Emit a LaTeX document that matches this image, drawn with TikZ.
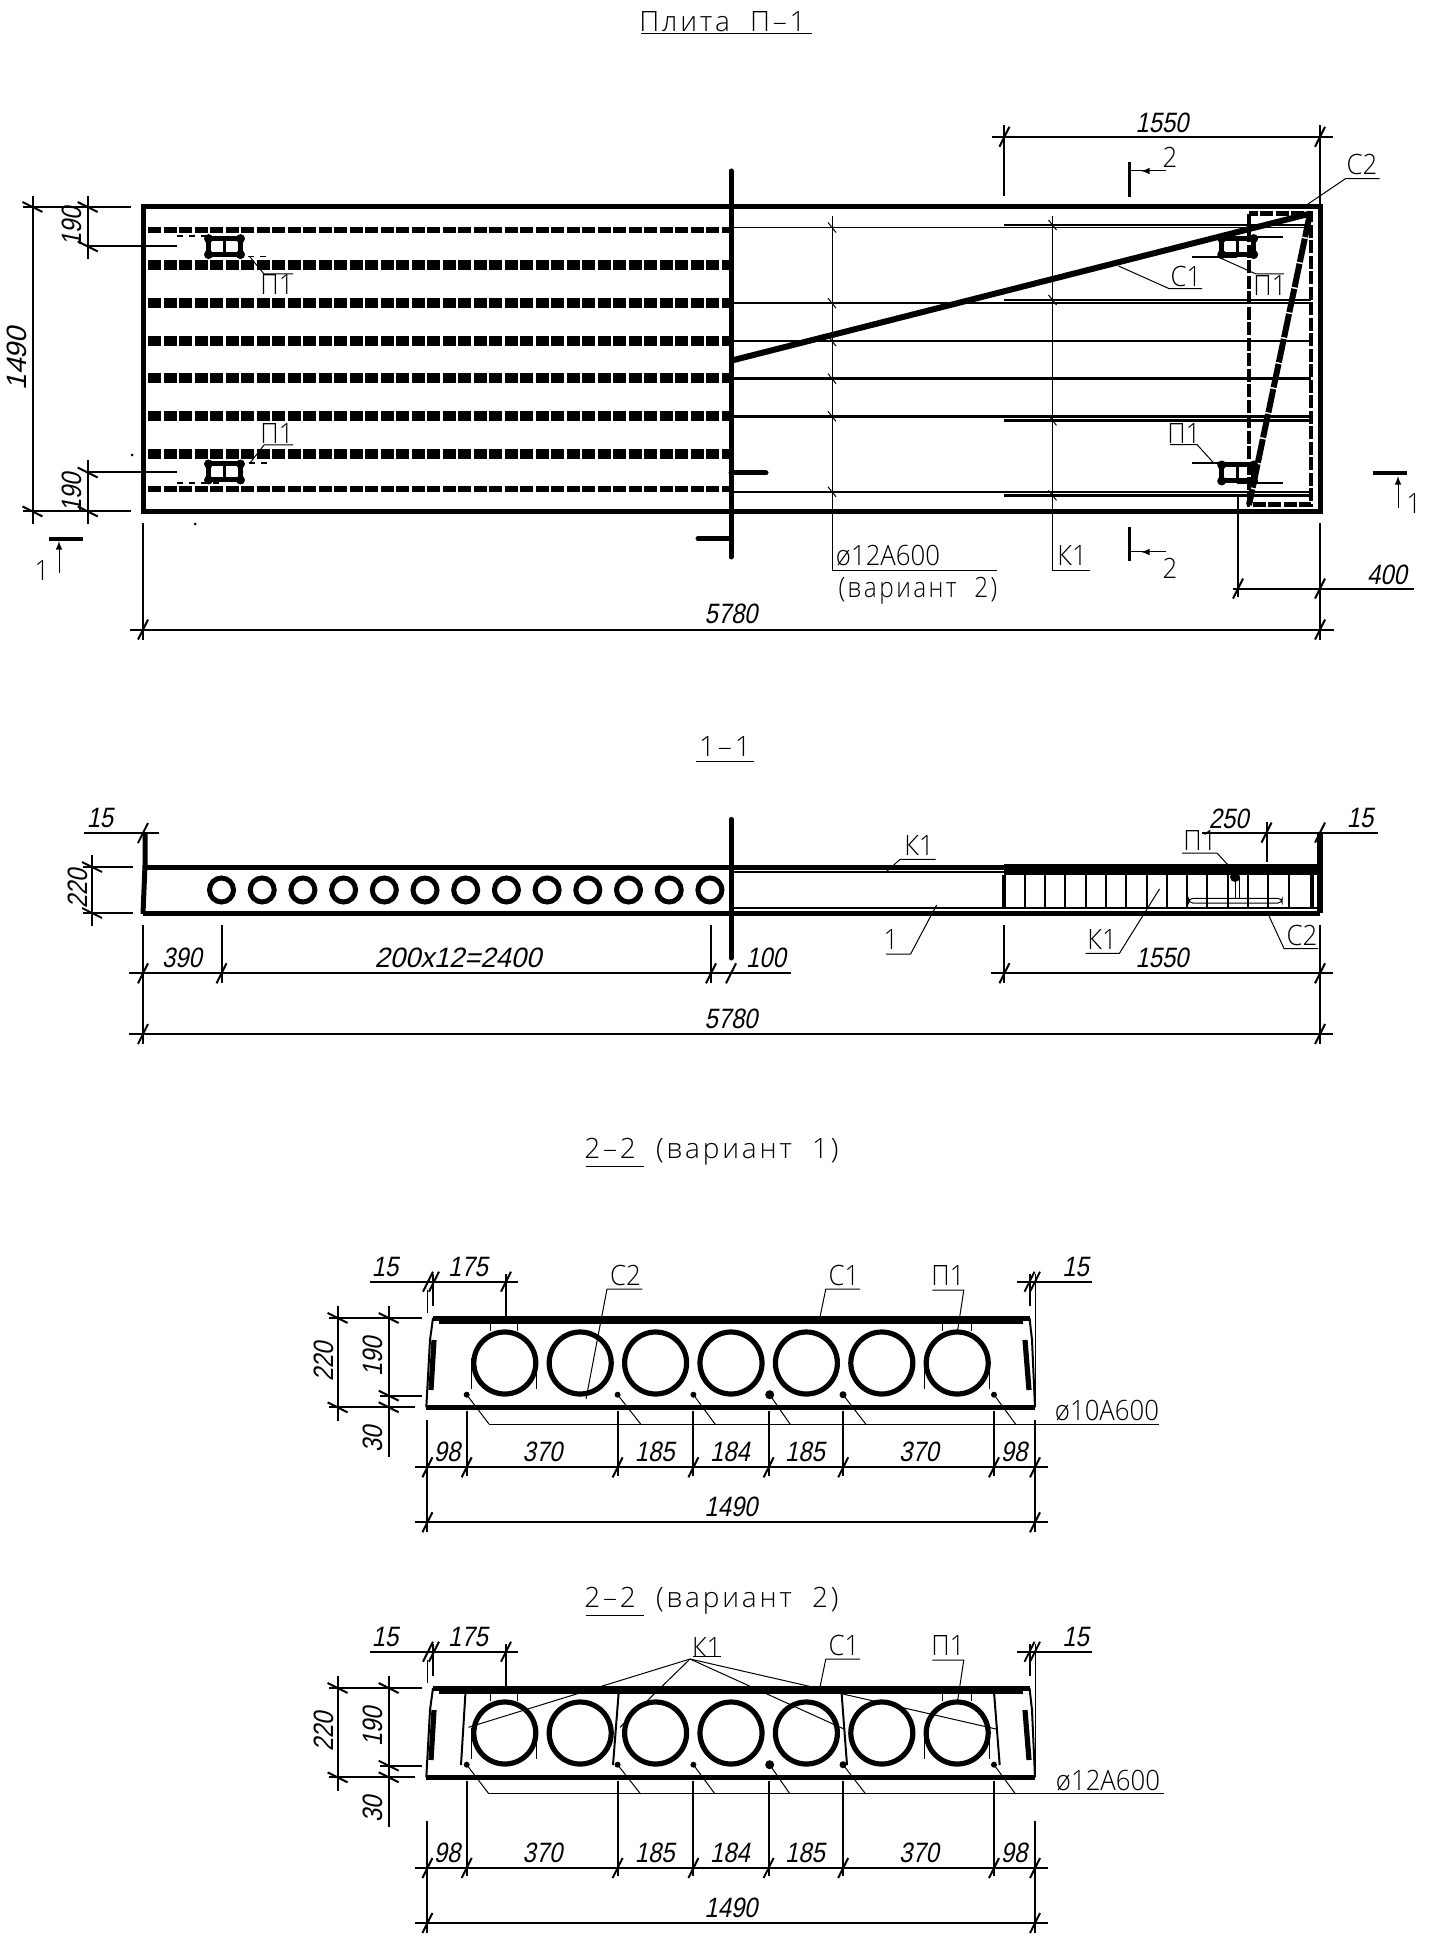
\documentclass[tikz,border=0pt]{standalone}
\usepackage{fontspec}
\newfontfamily\dimfont[FakeSlant=0.2,FakeStretch=0.85]{Liberation Sans}
\newfontfamily\lblfont[FakeStretch=0.92]{Open Sans Light}
\newfontfamily\ttlfont[LetterSpace=10]{Open Sans Light}
\tikzset{
	dimline/.style={line width=1pt},
	thinline/.style={line width=0.5pt},
	plateline/.style={line width=2.5pt},
	dimtext/.style={font=\dimfont\fontsize{14}{14}\selectfont,inner sep=0pt},
	lbltext/.style={font=\lblfont\fontsize{14}{14}\selectfont,inner sep=0pt},
	ttltext/.style={font=\ttlfont\fontsize{14}{14}\selectfont,inner sep=0pt},
	heavyrod/.style={line width=5pt,dash pattern=on 6.5pt off 1.25pt},
	lightrod/.style={line width=3pt,dash pattern=on 6.5pt off 1.25pt}
}
% y, x from, x to, ticks
\newcommand{\dimrow}[4]{
	\draw[dimline] (#2,#1) -- (#3,#1);
	\foreach \t in {#4}{
		\draw[dimline] ({\t+5},{#1-10}) -- ({\t-5},{#1+10});
	}
}
% x, y from, y to, ticks
\newcommand{\dimcol}[4]{
	\draw[dimline] (#1,#2) -- (#1,#3);
	\foreach \t in {#4}{
		\draw[dimline] ({#1-10},{\t-5}) -- ({#1+10},{\t+5});
	}
}
\begin{document}
\begin{tikzpicture}[x=0.5pt,y=-0.5pt]
\useasboundingbox (0,0) rectangle (1439,1946);
\fill[white] (0,0) rectangle (1439,1946);

%titles
\node[ttltext,anchor=west] (titleplan) at (639,22) {Плита\ \ П–1};
\draw[thinline] (641,34) -- (812,34);
\node[ttltext] (titleone) at (725,747) {1–1};
\draw[thinline] (696,761) -- (754,761);
\node[ttltext,anchor=west] (titletwoa) at (584,1152) {2–2\ \ (вариант\ \ 1)};
\draw[thinline] (586,1166) -- (644,1166);
\node[ttltext,anchor=west] (titletwob) at (584,1601) {2–2\ \ (вариант\ \ 2)};
\draw[thinline] (586,1615) -- (644,1615);

%plan: the plate and the break
\draw[plateline] (143,207) rectangle (1320,511.4);
\draw[plateline,line cap=round] (731,171) -- (731,557);
\draw[plateline,line cap=round] (731,473) -- (766,473);
\draw[plateline,line cap=round] (698,538.6) -- (731,538.6);

%plan: rods left of the break
\foreach \y in {265,303,340.7,378,416.4,453.6}{
	\draw[heavyrod] (148,\y) -- (731,\y);
}
\foreach \y in {229.6,489}{
	\draw[lightrod] (148,\y) -- (731,\y);
}
\fill (132,455) circle (1.5);
\fill (195,524) circle (1.5);

%plan: rods right of the break
\foreach \y in {227.5,491.8}{
	\draw[line width=0.8pt] (731,\y) -- (1311,\y);
}
\foreach \y in {303.2,341,378.6,416.4}{
	\draw[line width=1.2pt] (731,\y) -- (1311,\y);
}
\foreach \y in {225,300,420.4,495.4}{
	\draw[line width=1.2pt] (1004,\y) -- (1311,\y);
}

%plan: the meshes at the end
\draw[line width=2.2pt,dash pattern=on 6.5pt off 1.25pt] (1249,213.6) rectangle (1311,504.6);
\draw[line width=3pt] (731,360.7) -- (1310,213.6);
\draw[line width=3pt,dash pattern=on 12pt off 0.8pt] (1310,213.6) -- (1249,505);

%plan: small frames
\foreach \x/\y in {208.5/238.6,208.5/464,1221.7/238.6,1221.7/465}{
	\draw[line width=2.5pt] (\x,\y) rectangle ({\x+32},{\y+16});
	\draw[line width=1.5pt] ({\x+16},\y) -- ({\x+16},{\y+16});
	\foreach \cx in {0,32}{
		\foreach \cy in {0,16}{
			\fill ({\x+\cx},{\y+\cy}) circle (4.5);
		}
	}
}
\draw[dimline,dashed] (177,236.4) -- (208,236.4);
\draw[thinline,dashed] (224,257) -- (270,257);
\draw[thinline] (250,257) -- (264,274) -- (293,274);
\draw[dimline,dashed] (177,483) -- (224,483);
\draw[dimline,dashed] (237,463) -- (270,463);
\draw[thinline] (250,463) -- (264,445) -- (293,445);
\draw[dimline] (1232,236.8) -- (1283,236.8);
\draw[dimline] (1191.5,257) -- (1237,257);
\draw[thinline] (1218,257) -- (1256,274) -- (1284,274);
\draw[dimline] (1191.5,463) -- (1237,463);
\draw[dimline] (1237,483) -- (1283,483);
\draw[thinline] (1213.7,463) -- (1197,444.6) -- (1170,444.6);

%plan: leaders
\draw[thinline] (832,216) -- (832,570) -- (997,570);
\draw[thinline] (1052.5,216) -- (1052.5,570) -- (1090,570);
\foreach \y in {227.5,303.2,341,378.6,416.4,491.8}{
	\draw[thinline] (828,{\y-5}) -- (836,{\y+5});
}
\foreach \y in {225,300,420.4,495.4}{
	\draw[thinline] (1048.5,{\y-5}) -- (1056.5,{\y+5});
}
\draw[thinline] (1308,204) -- (1345.6,178.6) -- (1379.5,178.6);
\draw[thinline] (1118.5,266) -- (1169,288.6) -- (1202,288.6);

%plan: section marks
\draw[line width=2pt] (49.4,538.6) -- (83.4,538.6);
\draw[thinline,-latex] (59,573) -- (59,541);
\draw[line width=2pt] (1372.5,473) -- (1407,473);
\draw[thinline,-latex] (1398,508) -- (1398,476);
\foreach \y/\ya/\yb in {171/162.5/197,552/527.5/561.4}{
	\draw[line width=1.5pt] (1129,\ya) -- (1129,\yb);
	\draw[thinline] (1166,\y) -- (1129,\y);
	\draw[thinline,-latex] (1160,\y) -- (1141,\y);
}

%plan: dimensions
\dimcol{32.5}{196}{524}{207,511.4}
\dimcol{87.7}{196}{259}{207,246.4}
\dimcol{87.7}{460}{524}{472.5,511.4}
\foreach \y in {207,511.4}{
	\draw[dimline] (23,\y) -- (131,\y);
}
\draw[dimline] (87.7,246.4) -- (177.4,246.4);
\draw[dimline] (87.7,472.5) -- (177.4,472.5);
\dimrow{629.6}{130}{1334}{143,1320}
\dimrow{136.8}{992}{1333}{1004.4,1320}
\dimrow{588.6}{1232.5}{1414}{1238,1320}
\draw[dimline] (143,523) -- (143,640);
\draw[dimline] (1320,523) -- (1320,640);
\draw[dimline] (1004.4,125) -- (1004.4,196.4);
\draw[dimline] (1320,125) -- (1320,207);
\draw[dimline] (1238,494.6) -- (1238,597);

%plan: texts
\foreach \x/\y/\t [count=\i] in {731/614/5780,1162/123/1550,1387/575/400}{
	\node[dimtext] (plandim\i) at (\x,\y) {\t};
}
\node[dimtext,rotate=90,xscale=1.2] (planheight) at (17,359) {1490};
\node[dimtext,rotate=90] (planedgea) at (72,227) {190};
\node[dimtext,rotate=90] (planedgeb) at (72,493) {190};
\foreach \x/\y/\t [count=\i] in {277/285/П1,277/434/П1,1270/285.7/П1,1184/434/П1,
	1362/165/С2,1186/277/С1,888/556/ø12А600,1072/556/К1,
	42/570.7/1,1414/503.6/1,1170/157/2,1170/568/2}{
	\node[lbltext] (planlbl\i) at (\x,\y) {\t};
}
\node[ttltext,xscale=0.87] (planvar) at (918,591) {(вариант\ \ 2)};

%section 1-1
\begin{scope}[shift={(0,-4)}]
	%outline
	\draw[plateline] (143,871) -- (1320,871);
	\draw[plateline] (143,917) -- (1320,917);
	\draw[plateline] (145,837) -- (145,869) -- (143,918);
	\draw[plateline,line cap=round] (731,823.4) -- (731,962);
	\draw[line width=3pt] (1320,836.6) -- (1320,917);
	\draw[line width=1.75pt] (1312,879) -- (1312,912);
	\fill (1004,868) rectangle (1320,879);
	\draw[dimline] (731,876) -- (1004,876);
	\draw[dimline] (731,912) -- (1320,912);

	%voids
	\foreach \i in {0,...,12}{
		\draw[line width=2.5pt] ({221.5+40.7*\i},894) circle (12);
	}

	%stirrups
	\draw[line width=2pt] (1004.4,879) -- (1004.4,912);
	\foreach \i in {1,...,14}{
		\draw[dimline] ({1004.4+20.3*\i},879) -- ({1004.4+20.3*\i},912);
	}
	\draw[thinline,rounded corners=2] (1188.7,902.4) rectangle (1282,907);
	\fill (1235,881) circle (5);
	\draw[thinline] (1235,881) -- (1235,902.4);
	\draw[thinline] (1239,881) -- (1239,902.4);

	%leaders
	\draw[thinline] (886,876) -- (900,863.4) -- (935.6,863.4);
	\draw[thinline] (936.6,909) -- (910.6,958) -- (886,958);
	\draw[thinline] (1159.5,893) -- (1119.4,957.3) -- (1085.5,957.3);
	\draw[thinline] (1269,920) -- (1284,952.5) -- (1318,952.5);
	\draw[thinline] (1228,869) -- (1217,857) -- (1182,857);

	%dimensions
	\dimrow{837}{84}{158.5}{143}
	\dimrow{836.6}{1202}{1377.7}{1266.5,1320}
	\dimcol{92}{859}{930}{871,917}
	\draw[dimline] (83,871) -- (133,871);
	\draw[dimline] (83,917) -- (133,917);
	\draw[dimline] (1266.5,826) -- (1266.5,866);
	\dimrow{977.3}{129}{791}{143,221.5,711,731}
	\dimrow{977.3}{991}{1333}{1004.4,1320}
	\dimrow{1038}{129}{1333}{143,1320}
	\foreach \x/\yb in {143/1048,221.5/987,711/987,1004.4/987,1320/1048}{
		\draw[dimline] (\x,929) -- (\x,\yb);
	}
	\foreach \x/\y/\t [count=\i] in {100/822/15,1228.7/822.4/250,1360/822/15,182/962/390,
		766/962/100,1162/962/1550,731/1022.7/5780}{
		\node[dimtext] (onedim\i) at (\x,\y) {\t};
	}
	\node[dimtext,xscale=1.15] (onepitch) at (458,962) {200x12=2400};
	\node[dimtext,rotate=90] (oneheight) at (77.6,893) {220};
	\foreach \x/\y/\t [count=\i] in {919/849.5/К1,891/943.7/1,1102/943.7/К1,1302/939.7/С2,1200/844.4/П1}{
		\node[lbltext] (onelbl\i) at (\x,\y) {\t};
	}
\end{scope}

%sections 2-2
\begin{scope}[shift={(0,-5)}]
	%the part that both have
	\foreach \s/\n/\ry/\ytop in {0/a/0/1415.6,370/b/400.7/1785.7}{
		\begin{scope}[shift={(0,\s)}]
			\draw[plateline] (426.3,1412.3) -- (1035,1412.3);
			\draw[plateline] (433,1323) -- (1029.5,1323);
			\draw[dimline] (433,1323) -- (430,1345) -- (426.3,1412.3);
			\draw[dimline] (1029.5,1323) -- (1032,1345) -- (1035,1412.3);
			\draw[line width=2.6pt] (434,1345) -- (431,1395);
			\draw[line width=2.6pt] (1025,1345) -- (1029,1395);
			\draw[line width=1.5pt] (439,1327.5) -- (1023,1327.5);
			\foreach \i in {0,...,6}{
				\draw[line width=2.6pt] ({504.8+75.4*\i},1368) circle (31);
			}
			\foreach \x in {490.8,517.7,942.5,971.7}{
				\draw[thinline] (\x,1326) -- (\x,1336);
			}
			\foreach \x in {471,536,924.6,989}{
				\draw[thinline] (\x,1363) -- (\x,1394);
			}
			\foreach \x/\r/\xb in {466.7/3/489,617.6/3/640.6,693.4/3/715,769.7/4.5/790,843/3.5/865.7,994/3/1015.5}{
				\fill (\x,1399.7) circle (\r);
				\draw[thinline] (\x,1399.7) -- (\xb,1429);
			}
			%top dimensions
			\dimrow{1286.7}{370}{517.7}{428,434,506}
			\dimrow{1286.7}{1017}{1092}{1029.5,1035}
			\draw[thinline] (427,1295) -- (427,1318);
			\draw[dimline] (433,1279) -- (433,1311);
			\draw[dimline] (506,1279) -- (506,1323);
			\draw[dimline] (1029.5,1279) -- (1029.5,1311);
			\draw[thinline] (1035,1279) -- (1035,1412);
			%left dimensions
			\dimcol{337.6}{1310.7}{1425.7}{1323,1412.3}
			\dimcol{388.7}{1310.7}{1462}{1323,1400.7,1412.3}
			\draw[dimline] (329,1323) -- (421.8,1323);
			\draw[dimline] (329,1412.3) -- (415,1412.3);
			\draw[dimline] (379.7,1400.7) -- (421.8,1400.7);
			\foreach \x/\y/\t/\m in {385/1272/15/fa,468/1272/175/fb,1075.5/1272/15/fc}{
				\node[dimtext] (dim\n\m) at (\x,\y) {\t};
			}
			\node[dimtext,rotate=90] (height\n) at (323.6,1367) {220};
			\node[dimtext,rotate=90] (upper\n) at (373,1362) {190};
			\node[dimtext,rotate=90] (lower\n) at (373,1444) {30};
			%labels
			\draw[thinline] (819,1326.7) -- (825.8,1294) -- (860,1294);
			\draw[thinline] (957.7,1335) -- (963.8,1295) -- (932.4,1295);
			\node[lbltext] (cone\n) at (844,1280.7) {С1};
			\node[lbltext] (pone\n) at (948,1280.7) {П1};
		\end{scope}
		%dimension rows under the section
		\begin{scope}[shift={(0,\ry)}]
			\dimrow{1472.3}{415}{1047.5}{427.4,466.7,617.6,693.4,768.6,843.2,994,1035}
			\dimrow{1527.3}{415}{1047.5}{427.4,1035}
			\foreach \x/\y/\t/\m in {447/1457/98/ra,542.4/1457/370/rb,654.7/1457/185/rc,730/1457/184/rd,
				805/1457/185/re,919/1457/370/rf,1014/1457/98/rg,731/1512/1490/rh}{
				\node[dimtext] (dim\n\m) at (\x,\y) {\t};
			}
			\draw[dimline] (427.4,1425) -- (427.4,1537);
			\draw[dimline] (1035,1425) -- (1035,1537);
		\end{scope}
		\foreach \x in {466.7,617.6,693.4,768.6,843.2,994}{
			\draw[dimline] (\x,\ytop) -- (\x,{1480.6+\ry});
		}
	}

	%variant 1
	\draw[thinline] (489,1429) -- (1158.6,1429);
	\node[lbltext] (rebara) at (1107,1415.7) {ø10А600};
	\draw[thinline] (586,1404) -- (607,1294) -- (642.3,1294);
	\node[lbltext] (ctwoa) at (625.5,1280.7) {С2};

	%variant 2
	\draw[thinline] (489,1798.3) -- (1164,1798.3);
	\node[lbltext] (rebarb) at (1108,1786) {ø12А600};
	\node[lbltext] (kone) at (706.8,1652) {К1};
	\draw[thinline] (720.9,1661.7) -- (692.8,1661.7);
	\foreach \x/\y in {468.4/1732.3,620/1732.3,844/1734,996/1734}{
		\draw[thinline] (690,1664) -- (\x,\y);
	}
	\foreach \xa/\xb in {465.5/461,618.7/613,841.5/847,994/999.7}{
		\draw[dimline] (\xa,1697) -- (\xb,1770);
	}
\end{scope}
\end{tikzpicture}
\end{document}
